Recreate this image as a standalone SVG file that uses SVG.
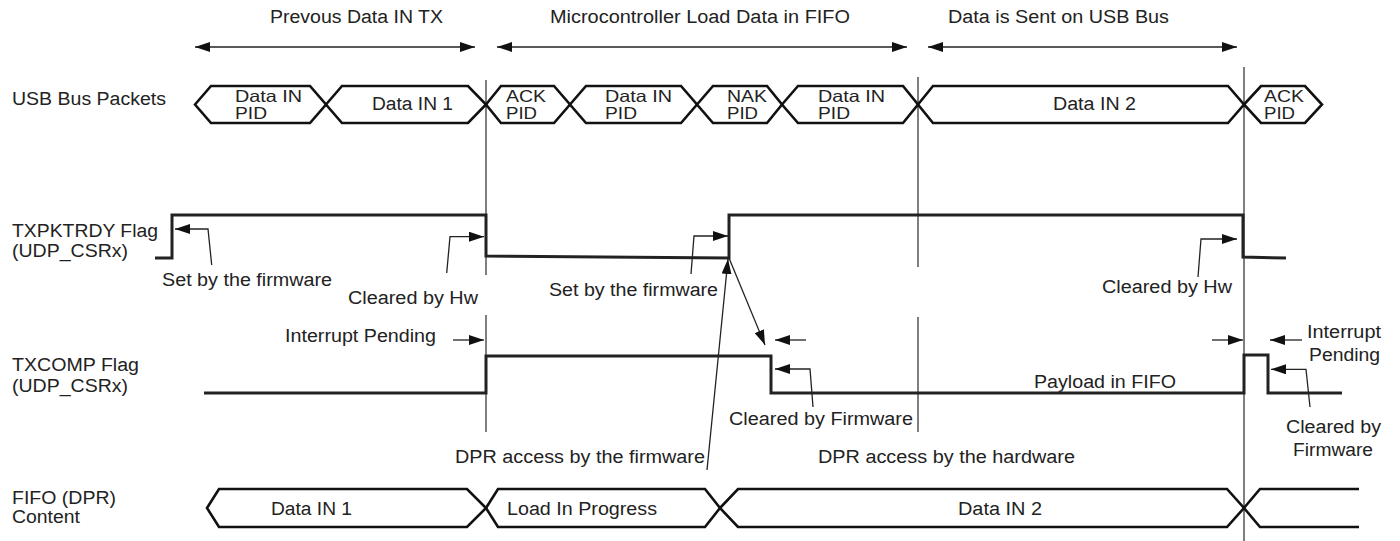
<svg xmlns="http://www.w3.org/2000/svg" width="1400" height="541" viewBox="0 0 1400 541">
<style>
.t{font-family:"Liberation Sans",Arial,Helvetica,sans-serif;font-size:18px;fill:#222}
.s{font-size:16.5px}
.hex{fill:none;stroke:#111;stroke-width:2.6;stroke-linejoin:miter}
.wave{fill:none;stroke:#222;stroke-width:3}
.mark{fill:none;stroke:#555;stroke-width:1.5}
.ann{fill:none;stroke:#222;stroke-width:1.3}
</style>
<defs>
<marker id="ah" viewBox="0 0 15 10" refX="15" refY="5" markerWidth="15" markerHeight="10" markerUnits="userSpaceOnUse" orient="auto-start-reverse">
<path d="M0,0 L15,5 L0,10 z" fill="#111"/>
</marker>
</defs>
<rect width="1400" height="541" fill="#fff"/>

<g id="headers">
<text class="t" x="270" y="23" textLength="173" lengthAdjust="spacingAndGlyphs">Prevous Data IN TX</text>
<text class="t" x="550" y="23" textLength="300" lengthAdjust="spacingAndGlyphs">Microcontroller Load Data in FIFO</text>
<text class="t" x="948" y="23" textLength="221" lengthAdjust="spacingAndGlyphs">Data is Sent on USB Bus</text>
</g>

<g id="row-labels">
<text class="t" x="12" y="105" textLength="154" lengthAdjust="spacingAndGlyphs">USB Bus Packets</text>
<text class="t" x="12" y="237" textLength="146" lengthAdjust="spacingAndGlyphs">TXPKTRDY Flag</text>
<text class="t" x="12" y="257" textLength="116" lengthAdjust="spacingAndGlyphs">(UDP_CSRx)</text>
<text class="t" x="12" y="371" textLength="127" lengthAdjust="spacingAndGlyphs">TXCOMP Flag</text>
<text class="t" x="12" y="392" textLength="116" lengthAdjust="spacingAndGlyphs">(UDP_CSRx)</text>
<text class="t" x="12" y="504" textLength="104" lengthAdjust="spacingAndGlyphs">FIFO (DPR)</text>
<text class="t" x="12" y="523" textLength="68" lengthAdjust="spacingAndGlyphs">Content</text>
</g>

<g id="markers">
<path class="mark" d="M486,80 V275 M486,315 V432"/>
<path class="mark" d="M918,77 V267 M918,317 V432"/>
<path class="mark" d="M1244,67 V541"/>
</g>

<g id="usb-packets">
<g id="pkt1"><polygon class="hex" points="195,104.5 211,86 310,86 326,104.5 310,123 211,123"/>
<text class="t s" x="235" y="102" textLength="67" lengthAdjust="spacingAndGlyphs">Data IN</text>
<text class="t s" x="235" y="118.5" textLength="32" lengthAdjust="spacingAndGlyphs">PID</text></g>
<g id="pkt2"><polygon class="hex" points="326,104.5 342,86 468,86 486,104.5 468,123 342,123"/>
<text class="t" x="372" y="110" textLength="81" lengthAdjust="spacingAndGlyphs">Data IN 1</text></g>
<g id="pkt3"><polygon class="hex" points="486,104.5 501,86 554,86 570,104.5 554,123 501,123"/>
<text class="t s" x="506" y="102" textLength="40" lengthAdjust="spacingAndGlyphs">ACK</text>
<text class="t s" x="506" y="118.5" textLength="31" lengthAdjust="spacingAndGlyphs">PID</text></g>
<g id="pkt4"><polygon class="hex" points="570,104.5 586,86 681,86 697,104.5 681,123 586,123"/>
<text class="t s" x="605" y="102" textLength="67" lengthAdjust="spacingAndGlyphs">Data IN</text>
<text class="t s" x="605" y="118.5" textLength="32" lengthAdjust="spacingAndGlyphs">PID</text></g>
<g id="pkt5"><polygon class="hex" points="697,104.5 713,86 767,86 782,104.5 767,123 713,123"/>
<text class="t s" x="727" y="102" textLength="40" lengthAdjust="spacingAndGlyphs">NAK</text>
<text class="t s" x="727" y="118.5" textLength="31" lengthAdjust="spacingAndGlyphs">PID</text></g>
<g id="pkt6"><polygon class="hex" points="782,104.5 798,86 903,86 918,104.5 903,123 798,123"/>
<text class="t s" x="818" y="102" textLength="67" lengthAdjust="spacingAndGlyphs">Data IN</text>
<text class="t s" x="818" y="118.5" textLength="32" lengthAdjust="spacingAndGlyphs">PID</text></g>
<g id="pkt7"><polygon class="hex" points="918,104.5 933,86 1228,86 1244,104.5 1228,123 933,123"/>
<text class="t" x="1053" y="110" textLength="83" lengthAdjust="spacingAndGlyphs">Data IN 2</text></g>
<g id="pkt8"><polygon class="hex" points="1244,104.5 1261,86 1305,86 1322,104.5 1305,123 1261,123"/>
<text class="t s" x="1264" y="102" textLength="40" lengthAdjust="spacingAndGlyphs">ACK</text>
<text class="t s" x="1264" y="118.5" textLength="31" lengthAdjust="spacingAndGlyphs">PID</text></g>
</g>

<g id="txpktrdy-wave">
<polyline class="wave" points="155,258 172,258 172,215 486,215 486,256 729,258 729,215 1243,215 1243,257 1286,258"/>
</g>

<g id="txcomp-wave">
<polyline class="wave" points="204,393 486,393 486,356 771,356 771,393 1244,393 1244,355 1268,355 1268,393 1342,393"/>
</g>

<g id="fifo">
<g id="fifo1"><polygon class="hex" points="207,508 219,489 467,489 486,508 467,527 219,527"/>
<text class="t" x="271" y="515" textLength="81" lengthAdjust="spacingAndGlyphs">Data IN 1</text></g>
<g id="fifo2"><polygon class="hex" points="486,508 498,489 705,489 720,508 705,527 498,527"/>
<text class="t" x="507" y="515" textLength="150" lengthAdjust="spacingAndGlyphs">Load In Progress</text></g>
<g id="fifo3"><polygon class="hex" points="720,508 738,489 1227,489 1244,508 1227,527 738,527"/>
<text class="t" x="958" y="515" textLength="84" lengthAdjust="spacingAndGlyphs">Data IN 2</text></g>
<g id="fifo4"><polyline class="hex" points="1359,489 1260,489 1244,508 1260,527 1359,527"/></g>
</g>

<g id="annotations">
<text class="t" x="162" y="286" textLength="170" lengthAdjust="spacingAndGlyphs">Set by the firmware</text>
<text class="t" x="348" y="304" textLength="130" lengthAdjust="spacingAndGlyphs">Cleared by Hw</text>
<text class="t" x="549" y="296" textLength="169" lengthAdjust="spacingAndGlyphs">Set by the firmware</text>
<text class="t" x="1102" y="293" textLength="130" lengthAdjust="spacingAndGlyphs">Cleared by Hw</text>
<text class="t" x="285" y="342" textLength="151" lengthAdjust="spacingAndGlyphs">Interrupt Pending</text>
<text class="t" x="729" y="425" textLength="184" lengthAdjust="spacingAndGlyphs">Cleared by Firmware</text>
<text class="t" x="1034" y="388" textLength="142" lengthAdjust="spacingAndGlyphs">Payload in FIFO</text>
<text class="t" x="1307" y="338" textLength="74" lengthAdjust="spacingAndGlyphs">Interrupt</text>
<text class="t" x="1309" y="361" textLength="71" lengthAdjust="spacingAndGlyphs">Pending</text>
<text class="t" x="1286" y="433" textLength="95" lengthAdjust="spacingAndGlyphs">Cleared by</text>
<text class="t" x="1293" y="456" textLength="80" lengthAdjust="spacingAndGlyphs">Firmware</text>
<text class="t" x="455" y="463" textLength="250" lengthAdjust="spacingAndGlyphs">DPR access by the firmware</text>
<text class="t" x="818" y="463" textLength="257" lengthAdjust="spacingAndGlyphs">DPR access by the hardware</text>
</g>

<g id="connectors">
<path class="ann" d="M195,47 H475" marker-start="url(#ah)" marker-end="url(#ah)"/>
<path class="ann" d="M497,47 H907" marker-start="url(#ah)" marker-end="url(#ah)"/>
<path class="ann" d="M928,47 H1237" marker-start="url(#ah)" marker-end="url(#ah)"/>
<path class="ann" d="M211.7,265 L208,229 H175" marker-end="url(#ah)"/>
<path class="ann" d="M446.7,273 L450,236.7 H484" marker-end="url(#ah)"/>
<path class="ann" d="M691,274 L694,236 H728" marker-end="url(#ah)"/>
<path class="ann" d="M1198,277 L1201,239 H1237" marker-end="url(#ah)"/>
<path class="ann" d="M453,340 H484" marker-end="url(#ah)"/>
<path class="ann" d="M707,470 L728,259" marker-end="url(#ah)"/>
<path class="ann" d="M729,258 L765,345" marker-end="url(#ah)"/>
<path class="ann" d="M806,340 H775" marker-end="url(#ah)"/>
<path class="ann" d="M813,407 L810,369 H775" marker-end="url(#ah)"/>
<path class="ann" d="M1212,340 H1243" marker-end="url(#ah)"/>
<path class="ann" d="M1302,340 H1270" marker-end="url(#ah)"/>
<path class="ann" d="M1310,407 L1306,369.3 H1271" marker-end="url(#ah)"/>
</g>
</svg>
